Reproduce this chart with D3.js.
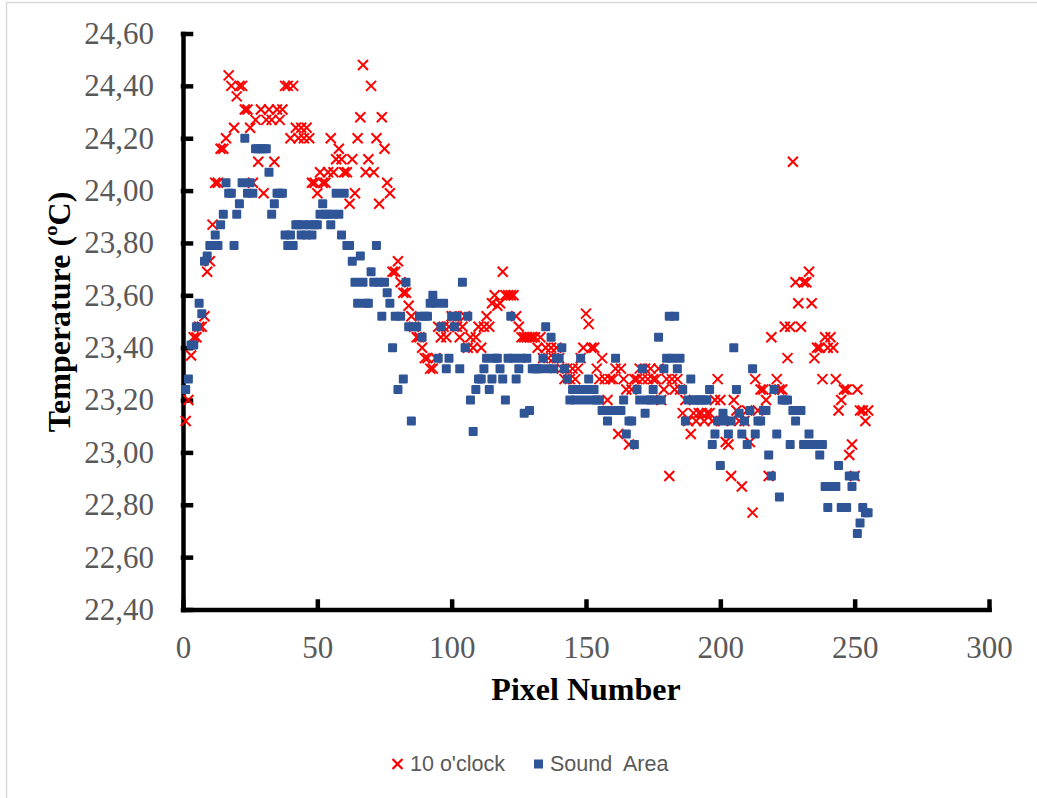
<!DOCTYPE html>
<html>
<head>
<meta charset="utf-8">
<script src="https://d3js.org/d3.v7.min.js"></script>
<style>
  body { margin: 0; background: #fff; }
  .axis path, .axis line { stroke: #000; stroke-width: 4.5px; stroke-linecap: square; }
  .axis text { font-family: "Liberation Serif", "Times New Roman", serif; font-size: 31px; fill: #595959; }
  .title { font-family: "Liberation Serif", "Times New Roman", serif; font-weight: bold; font-size: 32px; fill: #000; }
  .legend text { font-family: "Liberation Sans", Arial, sans-serif; font-size: 21.5px; fill: #595959; white-space: pre; }
</style>
</head>
<body>
<svg id="chart" width="1037" height="798"></svg>
<script>
// axis ticks
const pixelTicks = [0, 50, 100, 150, 200, 250, 300];
const tempTicks = [22.4, 22.6, 22.8, 23.0, 23.2, 23.4, 23.6, 23.8, 24.0, 24.2, 24.4, 24.6];

// series, one value per pixel starting at pixel 1
const tenOclock = [
  23.12, 23.20, 23.37, 23.44, 23.44, 23.48, 23.48, 23.52, 23.69, 23.73,
  23.87, 24.03, 24.03, 24.16, 24.16, 24.20, 24.44, 24.40, 24.24, 24.36,
  24.40, 24.40, 24.31, 24.31, 24.24, 24.03, 24.27, 24.11, 24.31, 23.99,
  24.27, 24.31, 24.27, 24.11, 24.31, 24.27, 24.31, 24.40, 24.40, 24.20,
  24.40, 24.24, 24.20, 24.24, 24.20, 24.24, 24.20, 24.03, 24.03, 23.99,
  24.07, 24.03, 24.03, 24.07, 24.20, 24.07, 24.12, 24.16, 24.12, 24.07,
  24.07, 23.95, 24.12, 23.99, 24.20, 24.28, 24.48, 24.07, 24.12, 24.40,
  24.07, 24.20, 23.95, 24.28, 24.16, 24.03, 23.99, 23.69, 23.69, 23.73,
  23.65, 23.61, 23.61, 23.56, 23.52, 23.48, 23.44, 23.44, 23.40, 23.36,
  23.36, 23.32, 23.32, 23.36, 23.48, 23.44, 23.48, 23.44, 23.48, 23.52,
  23.52, 23.48, 23.44, 23.48, 23.52, 23.40, 23.44, 23.40, 23.44, 23.48,
  23.40, 23.48, 23.52, 23.48, 23.57, 23.60, 23.56, 23.57, 23.69, 23.60,
  23.60, 23.60, 23.60, 23.52, 23.48, 23.44, 23.44, 23.44, 23.44, 23.44,
  23.44, 23.40, 23.44, 23.36, 23.40, 23.36, 23.40, 23.36, 23.40, 23.36,
  23.32, 23.28, 23.32, 23.28, 23.32, 23.28, 23.32, 23.36, 23.40, 23.53,
  23.49, 23.40, 23.40, 23.32, 23.28, 23.36, 23.28, 23.20, 23.28, 23.28,
  23.32, 23.07, 23.32, 23.28, 23.24, 23.03, 23.24, 23.28, 23.28, 23.32,
  23.28, 23.32, 23.28, 23.32, 23.28, 23.28, 23.32, 23.20, 23.24, 23.28,
  22.91, 23.28, 23.24, 23.28, 23.24, 23.15, 23.20, 23.12, 23.07, 23.15,
  23.12, 23.15, 23.15, 23.12, 23.15, 23.15, 23.12, 23.20, 23.28, 23.20,
  23.12, 23.04, 23.03, 22.91, 23.20, 23.16, 23.12, 22.87, 23.12, 23.16,
  23.04, 22.77, 23.28, 23.16, 23.24, 23.24, 23.20, 22.91, 23.44, 23.24,
  23.28, 23.24, 23.24, 23.48, 23.36, 23.48, 24.11, 23.65, 23.57, 23.48,
  23.65, 23.65, 23.69, 23.57, 23.36, 23.40, 23.40, 23.28, 23.44, 23.40,
  23.44, 23.40, 23.28, 23.16, 23.20, 23.24, 23.24, 22.99, 23.03, 22.91,
  23.24, 23.16, 23.16, 23.12, 23.16
];

const soundArea = [
  23.24, 23.28, 23.41, 23.41, 23.48, 23.57, 23.53, 23.73, 23.75, 23.79,
  23.79, 23.83, 23.79, 23.87, 23.91, 24.03, 23.99, 23.99, 23.79, 23.91,
  23.95, 24.03, 24.20, 23.99, 24.03, 23.99, 24.16, 24.16, 24.16, 24.16,
  24.16, 24.07, 23.91, 23.95, 23.99, 23.99, 23.99, 23.83, 23.79, 23.83,
  23.79, 23.87, 23.87, 23.83, 23.87, 23.83, 23.87, 23.83, 23.87, 23.87,
  23.91, 23.95, 23.91, 23.91, 23.87, 23.91, 23.99, 23.91, 23.83, 23.99,
  23.79, 23.79, 23.73, 23.65, 23.57, 23.75, 23.65, 23.57, 23.57, 23.69,
  23.65, 23.79, 23.65, 23.52, 23.65, 23.61, 23.57, 23.40, 23.52, 23.24,
  23.52, 23.28, 23.65, 23.48, 23.12, 23.48, 23.48, 23.52, 23.44, 23.52,
  23.52, 23.57, 23.60, 23.57, 23.36, 23.48, 23.57, 23.32, 23.36, 23.52,
  23.48, 23.52, 23.32, 23.65, 23.40, 23.52, 23.20, 23.08, 23.24, 23.28,
  23.28, 23.32, 23.36, 23.24, 23.28, 23.36, 23.36, 23.32, 23.28, 23.20,
  23.36, 23.52, 23.36, 23.28, 23.32, 23.36, 23.15, 23.36, 23.16, 23.32,
  23.32, 23.32, 23.32, 23.36, 23.48, 23.32, 23.44, 23.32, 23.36, 23.36,
  23.40, 23.32, 23.28, 23.20, 23.24, 23.20, 23.24, 23.36, 23.20, 23.24,
  23.28, 23.20, 23.24, 23.20, 23.20, 23.16, 23.16, 23.12, 23.16, 23.16,
  23.36, 23.16, 23.16, 23.20, 23.07, 23.12, 23.12, 23.03, 23.24, 23.20,
  23.32, 23.15, 23.20, 23.20, 23.24, 23.20, 23.44, 23.20, 23.32, 23.36,
  23.52, 23.36, 23.52, 23.32, 23.36, 23.24, 23.12, 23.20, 23.28, 23.20,
  23.20, 23.20, 23.20, 23.20, 23.20, 23.24, 23.03, 23.07, 23.12, 22.95,
  23.15, 23.12, 23.07, 23.12, 23.40, 23.24, 23.15, 23.07, 23.12, 23.03,
  23.16, 23.32, 23.07, 23.12, 23.12, 23.16, 23.16, 22.99, 22.91, 23.24,
  23.07, 22.83, 23.20, 23.20, 23.20, 23.03, 23.16, 23.12, 23.16, 23.16,
  23.03, 23.03, 23.07, 23.03, 23.03, 23.03, 22.99, 23.03, 22.87, 22.79,
  22.87, 22.87, 22.87, 22.95, 22.79, 22.79, 22.79, 22.91, 22.87, 22.91,
  22.69, 22.73, 22.79, 22.77, 22.77
];

const seriesNames = ["10 o'clock", "Sound  Area"];
const seriesColors = ["#ff0000", "#2f5597"];

const svg = d3.select("#chart");

// light frame (only top and left show in the original)
svg.append("rect")
  .attr("x", 6.5).attr("y", 2.5)
  .attr("width", 1200).attr("height", 1000)
  .attr("fill", "none")
  .attr("stroke", "#d9d9d9")
  .attr("stroke-width", 1.5);

const x = d3.scaleLinear().domain([0, 300]).range([183, 989]);
const y = d3.scaleLinear().domain([22.4, 24.6]).range([609.5, 33.5]);

const commaFmt = v => d3.format(".2f")(v).replace(".", ",");

// y axis, ticks pointing inward
svg.append("g")
  .attr("class", "axis")
  .attr("transform", `translate(${x(0)},0)`)
  .call(d3.axisLeft(y).tickValues(tempTicks).tickFormat(commaFmt)
    .tickSizeInner(-8).tickSizeOuter(0).tickPadding(29));

// x axis
svg.append("g")
  .attr("class", "axis")
  .attr("transform", `translate(0,${y(22.4)})`)
  .call(d3.axisBottom(x).tickValues(pixelTicks)
    .tickSizeInner(-8).tickSizeOuter(0).tickPadding(26));

// axis titles
svg.append("text")
  .attr("class", "title")
  .attr("text-anchor", "middle")
  .attr("transform", "translate(70,312) rotate(-90)")
  .text("Temperature (ºC)");

svg.append("text")
  .attr("class", "title")
  .attr("text-anchor", "middle")
  .attr("x", 586)
  .attr("y", 700)
  .text("Pixel Number");

const crossPath = "M-5,-5L5,5M5,-5L-5,5";

// 10 o'clock crosses
svg.append("g").selectAll("path")
  .data(tenOclock)
  .join("path")
  .attr("d", crossPath)
  .attr("transform", (d, i) => `translate(${x(i + 1)},${y(d)})`)
  .attr("stroke", seriesColors[0])
  .attr("stroke-width", 2)
  .attr("fill", "none");

// Sound Area squares
svg.append("g").selectAll("rect")
  .data(soundArea)
  .join("rect")
  .attr("x", (d, i) => x(i + 1) - 4.5)
  .attr("y", d => y(d) - 4.5)
  .attr("width", 9)
  .attr("height", 9)
  .attr("rx", 1)
  .attr("fill", seriesColors[1]);

// legend
const legend = svg.append("g").attr("class", "legend");
legend.append("path")
  .attr("d", "M-5,-5L5,5M5,-5L-5,5")
  .attr("transform", "translate(397.5,764)")
  .attr("stroke", seriesColors[0])
  .attr("stroke-width", 2.2);
legend.append("text").attr("x", 410).attr("y", 771).text(seriesNames[0]);
legend.append("rect")
  .attr("x", 534).attr("y", 759.5)
  .attr("width", 9).attr("height", 9)
  .attr("fill", seriesColors[1]);
legend.append("text").attr("x", 550).attr("y", 771).text(seriesNames[1]);
</script>
</body>
</html>
